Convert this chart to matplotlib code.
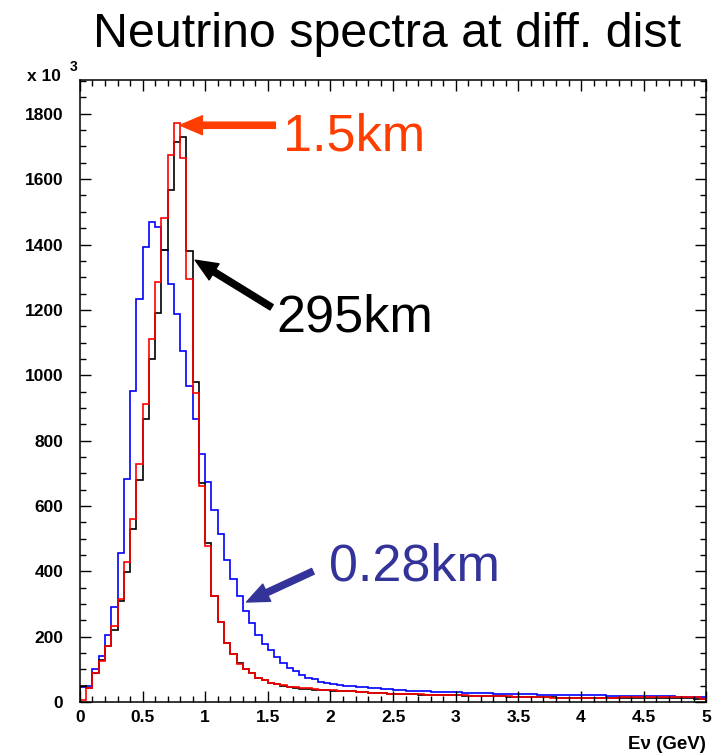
import numpy as np
import matplotlib
matplotlib.use("Agg")
import matplotlib.pyplot as plt
from matplotlib.ticker import MultipleLocator

plt.rcParams['font.family'] = ['Liberation Sans', 'DejaVu Sans']

# histogram binning: 100 bins of 0.05 GeV from 0 to 5 GeV
e_min, e_max, n_bins = 0.0, 5.0, 100

# bin contents, in units of 10^3
near_028km = [45, 50, 100, 142, 205, 291, 455, 682, 952, 1234,
              1392, 1468, 1453, 1382, 1280, 1186, 1073, 966, 867, 758,
              674, 587, 513, 436, 377, 324, 278, 243, 205, 179,
              159, 139, 118, 105, 96, 83, 74, 69, 62, 57,
              56, 52, 50, 49, 47, 46, 44, 42, 40, 39,
              37, 36, 35, 34, 33, 33, 32, 31, 31, 30,
              30, 29, 29, 28, 28, 27, 26, 26, 25, 25,
              24, 24, 24, 23, 23, 22, 22, 22, 21, 21,
              21, 20, 20, 20, 19, 19, 19, 18, 18, 18,
              18, 17, 17, 17, 17, 16, 16, 16, 16, 15]

far_295km = [50, 44, 90, 128, 171, 219, 309, 397, 530, 679,
             867, 1049, 1190, 1382, 1568, 1713, 1728, 1380, 979, 669,
             487, 325, 244, 181, 146, 118, 100, 88, 75, 67,
             59, 54, 50, 47, 44, 41, 40, 38, 37, 36,
             35, 34, 33, 33, 31, 30, 29, 28, 27, 26,
             25, 25, 24, 24, 23, 22, 22, 21, 21, 20,
             20, 19, 19, 18, 18, 18, 17, 17, 16, 16,
             15, 15, 15, 14, 14, 14, 13, 13, 13, 13,
             13, 12, 12, 12, 12, 12, 12, 12, 12, 12,
             11, 12, 11, 11, 11, 11, 11, 11, 10, 10]

mid_15km = [7, 44, 90, 125, 171, 232, 314, 428, 560, 728,
            911, 1112, 1285, 1481, 1675, 1772, 1664, 1293, 946, 661,
            478, 325, 244, 181, 146, 116, 100, 88, 75, 67,
            59, 54, 51, 47, 45, 42, 44, 39, 38, 37,
            36, 35, 34, 33, 32, 31, 29, 28, 27, 26,
            26, 25, 25, 24, 24, 23, 23, 22, 21, 21,
            20, 20, 19, 19, 19, 18, 18, 18, 17, 16,
            15, 15, 14, 14, 14, 13, 13, 13, 13, 13,
            12, 13, 12, 12, 13, 13, 14, 14, 15, 15,
            15, 14, 15, 15, 14, 15, 15, 14, 14, 9]

edges = np.linspace(e_min, e_max, n_bins + 1)

fig = plt.figure(figsize=(7.2, 7.56), dpi=100)
ax = fig.add_axes([0.111, 0.0714, 0.870, 0.8226])

ax.stairs(near_028km, edges, color='#0000ff', lw=1.2, baseline=0)
ax.stairs(far_295km, edges, color='black', lw=1.2, baseline=0)
ax.stairs(mid_15km, edges, color='#ff0000', lw=1.2, baseline=0)

ax.set_xlim(e_min, e_max)
ax.set_ylim(0, 1903)

ax.xaxis.set_major_locator(MultipleLocator(0.5))
ax.xaxis.set_minor_locator(MultipleLocator(0.1))
ax.yaxis.set_major_locator(MultipleLocator(200))
ax.yaxis.set_minor_locator(MultipleLocator(50))
ax.xaxis.set_major_formatter(plt.FuncFormatter(lambda v, p: f"{v:g}"))

ax.tick_params(which='both', direction='in', top=True, right=True, width=1)
ax.tick_params(which='major', length=8)
ax.tick_params(which='minor', length=4)
ax.tick_params(axis='y', which='major', pad=12)
ax.tick_params(axis='x', which='major', pad=6)
for lab in ax.get_xticklabels() + ax.get_yticklabels():
    lab.set_fontweight('bold')
    lab.set_fontsize(12.5)
for sp in ax.spines.values():
    sp.set_linewidth(1.1)

ax.set_xlabel('E\u03bd (GeV)', loc='right', fontsize=13.5, fontweight='bold', labelpad=8)

fig.text(0.037, 0.893, 'x 10', fontsize=12.5, fontweight='bold', ha='left', va='baseline')
fig.text(0.097, 0.906, '3', fontsize=10, fontweight='bold', ha='left', va='baseline')

fig.text(0.538, 0.954, 'Neutrino spectra at diff. dist', fontsize=34.8,
         ha='center', va='center')

# arrows and labels for each baseline
def label(text, color, tip, tail, pos):
    ax.annotate('', xy=tip, xytext=tail,
                arrowprops=dict(arrowstyle='simple,head_length=1.0,head_width=0.85,tail_width=0.28',
                                mutation_scale=16, color=color, shrinkA=0, shrinkB=0))
    ax.text(pos[0], pos[1], text, color=color, fontsize=37.5, ha='left', va='center')

label('1.5km', '#ff3d00', (0.80, 1765), (1.56, 1765), (1.62, 1728))
label('295km', 'black', (0.92, 1352), (1.53, 1208), (1.57, 1174))
label('0.28km', '#333399', (1.33, 306), (1.86, 400), (1.99, 413))

fig.savefig('out.png', dpi=100)
